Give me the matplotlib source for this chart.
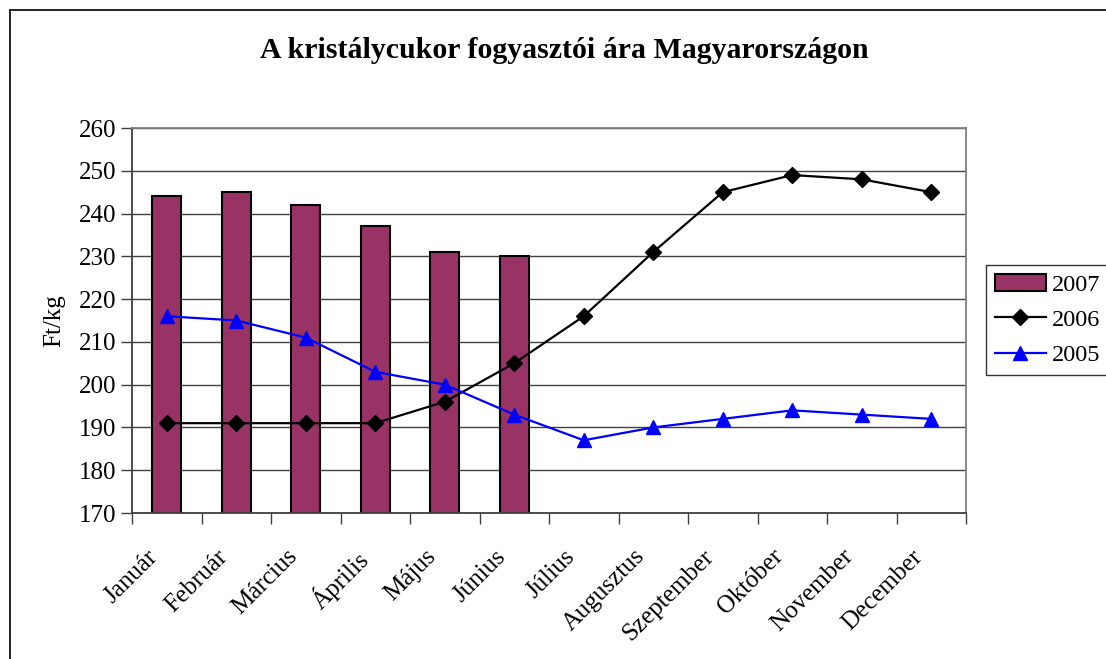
import matplotlib
matplotlib.use("Agg")
import matplotlib.pyplot as plt
from matplotlib.lines import Line2D
from matplotlib.patches import Patch
from matplotlib.transforms import ScaledTranslation
import numpy as np

months = ["Január", "Február", "Március", "Április", "Május", "Június",
          "Július", "Augusztus", "Szeptember", "Október", "November", "December"]
v2007 = [244, 245, 242, 237, 231, 230]
v2006 = [191, 191, 191, 191, 196, 205, 216, 231, 245, 249, 248, 245]
v2005 = [216, 215, 211, 203, 200, 193, 187, 190, 192, 194, 193, 192]
yticks = list(range(170, 261, 10))

plt.rcParams['font.family'] = ['Liberation Serif', 'DejaVu Serif']

W, H = 1106, 659
fig = plt.figure(figsize=(W / 100, H / 100), dpi=100)
ax = fig.add_axes([132 / W, (H - 513) / H, (966 - 132) / W, (513 - 128) / H])

x = np.arange(len(months))
ax.bar(x[:len(v2007)], v2007, width=0.42, color="#993366", edgecolor="black",
       linewidth=1.5, zorder=2)
ax.plot(x, v2006, color="black", lw=1.6, marker="D", markersize=8.5, zorder=3)
ax.plot(x, v2005, color="#0000FF", lw=1.6, marker="^", markersize=10.5, zorder=3)

ax.set_xlim(-0.5, len(months) - 0.5)
ax.set_ylim(170, 260)
ax.set_yticks(yticks)
ax.tick_params(axis='y', labelsize=18, length=8, width=1, color="#404040", pad=3)
ax.yaxis.grid(True, color="#404040", lw=1)
ax.set_axisbelow(True)

ax.set_xticks(np.arange(-0.5, len(months), 1))
ax.set_xticklabels([])
ax.tick_params(axis='x', which='major', length=8, width=1, color="#404040")
ax.set_xticks(x, minor=True)
ax.set_xticklabels(months, minor=True, rotation=45, ha='right', va='top',
                   rotation_mode='anchor', fontsize=18)
ax.tick_params(axis='x', which='minor', length=0, pad=14)
off = ScaledTranslation(-20 / 100, -13 / 100, fig.dpi_scale_trans)
for lab in ax.get_xticklabels(minor=True):
    lab.set_transform(lab.get_transform() + off)

for s in ax.spines.values():
    s.set_color("#808080")
    s.set_linewidth(1.3)
ax.spines['left'].set_color("#404040")
ax.spines['bottom'].set_color("#404040")

ax.set_ylabel("Ft/kg", fontsize=18, labelpad=10)

fig.text(564 / W, 1 - 50 / H, "A kristálycukor fogyasztói ára Magyarországon",
         ha='center', va='center', fontsize=21.5, fontweight='bold')

handles = [Patch(facecolor="#993366", edgecolor="black", linewidth=1.5),
           Line2D([], [], color="black", lw=1.6, marker="D", markersize=8.5),
           Line2D([], [], color="#0000FF", lw=1.6, marker="^", markersize=10.5)]
leg = fig.legend(handles, ["2007", "2006", "2005"], loc='upper left',
                 bbox_to_anchor=(986 / W, 1 - 265 / H), borderaxespad=0,
                 fontsize=17.5, frameon=True, fancybox=False, handlelength=2.1,
                 handletextpad=0.25, labelspacing=0.55, borderpad=0.35)
leg.get_frame().set_edgecolor("black")
leg.get_frame().set_linewidth(1)

fig.add_artist(Line2D([10 / W, 10 / W], [0, 1 - 10 / H], color="black", lw=1.2,
                      transform=fig.transFigure))
fig.add_artist(Line2D([10 / W, 1], [1 - 10 / H, 1 - 10 / H], color="black", lw=1.2,
                      transform=fig.transFigure))

fig.savefig("out.png", dpi=100)
